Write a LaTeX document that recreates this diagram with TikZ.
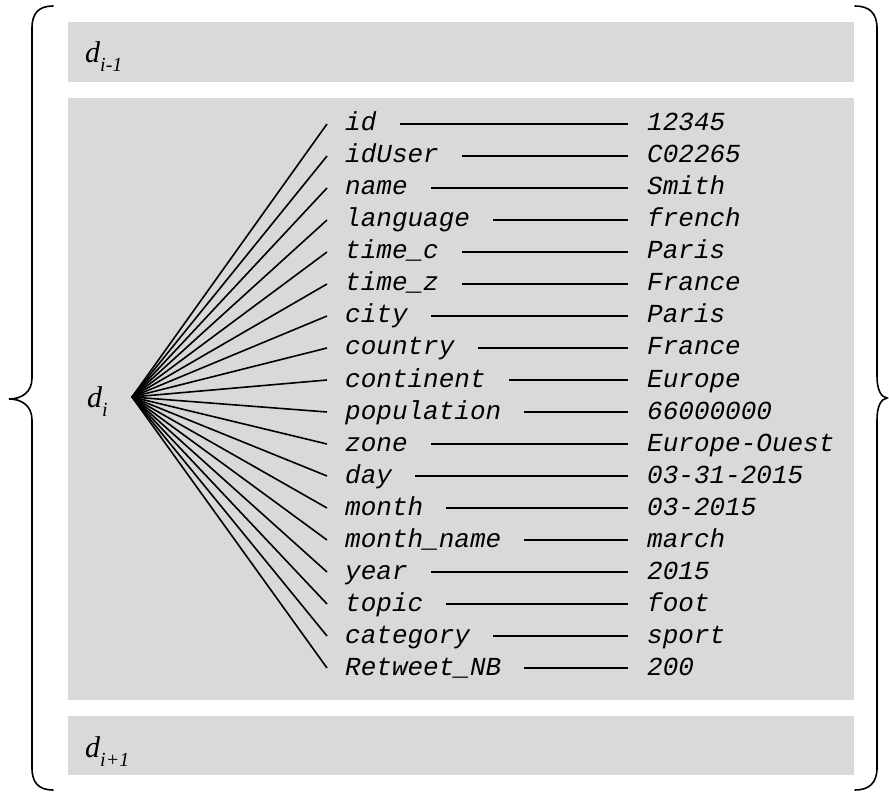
\documentclass[tikz,border=0pt]{standalone}
\usepackage{fontspec}
\setmainfont{Liberation Serif}
\setmonofont{Liberation Mono}
\definecolor{boxgray}{RGB}{217,217,217}
\begin{document}
\begin{tikzpicture}[x=1pt,y=-1pt,
  panel/.style={fill=boxgray,draw=none},
  keytxt/.style={anchor=west,inner xsep=0pt,inner ysep=0pt,text height=14pt,text depth=0pt,font=\fontsize{26}{26}\selectfont\ttfamily\itshape},
  link/.style={line width=1.6pt,black},
  bracepath/.style={line width=1.6pt,black,line cap=round},
  dlab/.style={anchor=base west,inner sep=0pt,font=\fontsize{30}{30}\selectfont\itshape}]
\useasboundingbox (0,0) rectangle (889,794);
% panels
\path[panel] (68,22) rectangle (854,82);
\path[panel] (68,98) rectangle (854,700);
\path[panel] (68,716) rectangle (854,775);
% labels
\node[dlab] (dprev) at (85,63) {d\raisebox{-0.3em}{\fontsize{20}{20}\selectfont i-1}};
\node[dlab] (dcur) at (87,407) {d\raisebox{-0.3em}{\fontsize{20}{20}\selectfont i}};
\node[dlab] (dnext) at (85,757) {d\raisebox{-0.3em}{\fontsize{20}{20}\selectfont i+1}};
\coordinate (hub) at (132,397);
% rows
\foreach \k/\v [count=\i from 0] in {id/12345, idUser/C02265, name/Smith, language/french, time\_c/Paris, time\_z/France, city/Paris, country/France, continent/Europe, population/66000000, zone/Europe-Ouest, day/03-31-2015, month/03-2015, month\_name/march, year/2015, topic/foot, category/sport, Retweet\_NB/200}{
  \node[keytxt] (k\i) at (345,124+32*\i) {\k};
  \node[keytxt] (v\i) at (647,124+32*\i) {\v};
  \draw[link] (hub) -- ([xshift=-18pt]k\i.west);
  \draw[link] ([xshift=23pt]k\i.east) -- ([xshift=-19pt]v\i.west);
}
% braces
\draw[bracepath] (53,6) .. controls (39,6) and (32,13) .. (32,28) -- (32,378)
  .. controls (32,392) and (22,399) .. (9,399)
  .. controls (22,399) and (32,406) .. (32,420) -- (32,768)
  .. controls (32,783) and (39,790) .. (53,790);
\draw[bracepath] (855,6) .. controls (869,6) and (877,13) .. (877,28) -- (877,376)
  .. controls (877,390) and (881,397) .. (887,398)
  .. controls (881,399) and (877,406) .. (877,420) -- (877,768)
  .. controls (877,783) and (869,790) .. (855,790);
\end{tikzpicture}
\end{document}
